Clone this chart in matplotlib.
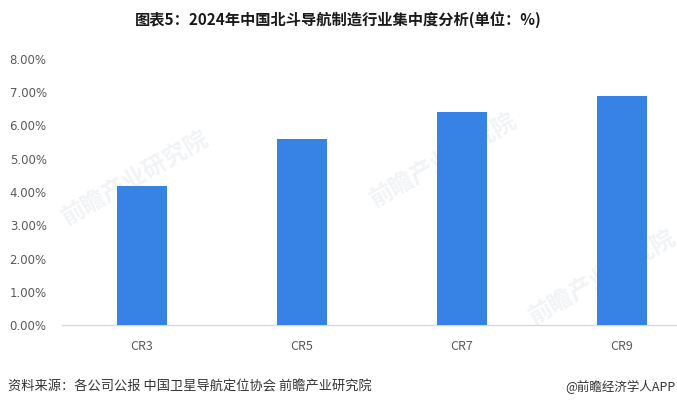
import matplotlib.pyplot as plt
import numpy as np

plt.rcParams['font.family'] = ['Noto Sans CJK SC', 'DejaVu Sans']

# data
categories = ['CR3', 'CR5', 'CR7', 'CR9']
values = [4.18, 5.59, 6.40, 6.90]
yticks = [0, 1, 2, 3, 4, 5, 6, 7, 8]

W, H = 677, 409
fig = plt.figure(figsize=(W / 100, H / 100), dpi=100)

# axes placed in pixel terms
left, right = 62, 677
bottom, top = 325, 59
ax = fig.add_axes([left / W, (H - bottom) / H, (right - left) / W, (bottom - top) / H])

x = np.arange(len(categories))
ax.bar(x, values, width=0.31, color='#3683E5', zorder=3)

slot = 160
ax.set_xlim(-0.5, -0.5 + (right - left) / slot)
ax.set_ylim(0, 8)
ax.set_xticks(x)
ax.set_xticklabels(categories, fontsize=9, color='#595959')
ax.set_yticks(yticks)
ax.set_yticklabels(['%.2f%%' % v for v in yticks], fontsize=8.5, color='#595959',
                   family='DejaVu Sans')
ax.tick_params(axis='x', length=0, pad=11)
ax.tick_params(axis='y', length=0, pad=11)

for s in ['top', 'right', 'left']:
    ax.spines[s].set_visible(False)
ax.spines['bottom'].set_color('#d9d9d9')
ax.spines['bottom'].set_linewidth(1)

# faint watermark, behind the bars
for (wx, wy) in [(0.12, 0.55), (0.62, 0.62), (0.88, 0.18)]:
    ax.text(wx, wy, '前瞻产业研究院', fontsize=17, color='#f1f3f6', rotation=30,
            ha='center', va='center', weight='bold', zorder=1,
            transform=ax.transAxes)

fig.text(0.5, 1 - 20 / H, '图表5：2024年中国北斗导航制造行业集中度分析(单位：%)',
         ha='center', va='center', fontsize=11, weight='bold', color='#1a1a1a')
fig.text(8 / W, 1 - 387 / H, '资料来源：各公司公报 中国卫星导航定位协会 前瞻产业研究院',
         ha='left', va='center', fontsize=9.5, color='#333333')
fig.text(675 / W, 1 - 387 / H, '@前瞻经济学人APP',
         ha='right', va='center', fontsize=9, color='#333333')

fig.savefig('out.png', dpi=100)
